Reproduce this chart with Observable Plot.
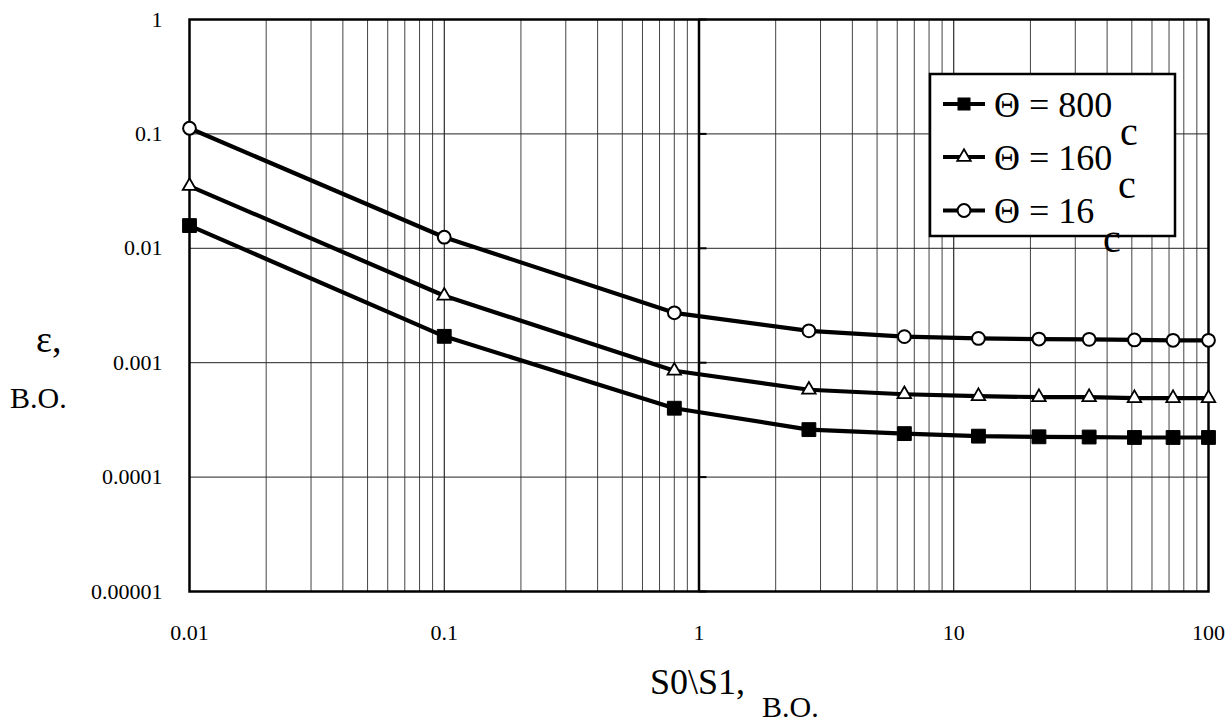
<!DOCTYPE html>
<html><head><meta charset="utf-8">
<script src="https://cdn.jsdelivr.net/npm/d3@7"></script>
<script src="https://cdn.jsdelivr.net/npm/@observablehq/plot@0.6"></script>
<style>
body{margin:0;background:#fff;}
#wrap{position:relative;width:1232px;height:724px;overflow:hidden;font-family:"Liberation Serif","DejaVu Serif",serif;color:#000;}
#wrap > svg{position:absolute;left:0;top:0;}
#wrap text{font-family:"Liberation Serif","DejaVu Serif",serif;}
</style></head><body><div id="wrap"></div>
<script>
// ---- data ----
const xValues = [0.01, 0.1, 0.8, 2.7, 6.4, 12.5, 21.6, 34, 51.2, 72.6, 100];
const theta800 = [0.0158, 0.0017, 0.0004, 0.00026, 0.00024, 0.000228, 0.000225, 0.000224, 0.000222, 0.000222, 0.000222];
const theta160 = [0.035, 0.00385, 0.00085, 0.00058, 0.00053, 0.00051, 0.0005, 0.0005, 0.00049, 0.00049, 0.00049];
const theta16  = [0.112, 0.0125, 0.00273, 0.0019, 0.00169, 0.00163, 0.00161, 0.0016, 0.00158, 0.00157, 0.00157];
const seriesNames = ["Θ = 800", "Θ = 160", "Θ = 16"];
const xTicks = [0.01, 0.1, 1, 10, 100];
const xTickLabels = ["0.01", "0.1", "1", "10", "100"];
const yTicks = [0.00001, 0.0001, 0.001, 0.01, 0.1, 1];
const yTickLabels = ["0.00001", "0.0001", "0.001", "0.01", "0.1", "1"];
const yTitle = "ε,";
const xTitle = "S0\\S1,";
const unitLabel = "В.О.";
const unitSuffix = "c";

// grid positions (minor log ticks)
const xMinor = [];
for (const d of [0.01, 0.1, 1, 10]) for (let k = 2; k < 10; k++) xMinor.push(+(d * k).toPrecision(3));
const xDecadeGrid = [0.1, 10];

const mk = vals => xValues.map((x, i) => ({x, y: vals[i]}));
const d800 = mk(theta800), d160 = mk(theta160), d16 = mk(theta16);

const FONT = "'Liberation Serif', 'DejaVu Serif', serif";
const chart = Plot.plot({
  width: 1232, height: 724,
  marginLeft: 189, marginRight: 24, marginTop: 19, marginBottom: 133,
  x: {type: "log", domain: [0.01, 100]},
  y: {type: "log", domain: [0.00001, 1]},
  style: {fontFamily: FONT, fontSize: "22px", color: "#000", background: "#fff"},
  marks: [
    Plot.ruleX(xMinor, {stroke: "#444", strokeWidth: 1}),
    Plot.ruleX(xDecadeGrid, {stroke: "#000", strokeWidth: 1}),
    Plot.ruleY(yTicks, {stroke: "#222", strokeWidth: 1}),
    Plot.ruleY(yTicks, {x1: 1, x2: 1.075, stroke: "#000", strokeWidth: 2}),
    Plot.ruleX([1], {stroke: "#000", strokeWidth: 2.5}),
    Plot.frame({stroke: "#000", strokeWidth: 2.5}),
    Plot.axisX({ticks: xTicks, tickFormat: d => xTickLabels[xTicks.indexOf(d)], tickSize: 0, tickPadding: 33, label: null, fontSize: 22}),
    Plot.axisY({ticks: yTicks, tickFormat: d => yTickLabels[yTicks.indexOf(d)], tickSize: 0, tickPadding: 27, label: null, fontSize: 22}),
    Plot.line(d800, {x: "x", y: "y", stroke: "#000", strokeWidth: 4.2}),
    Plot.line(d160, {x: "x", y: "y", stroke: "#000", strokeWidth: 4.2}),
    Plot.line(d16, {x: "x", y: "y", stroke: "#000", strokeWidth: 4.2}),
    Plot.dot(d800, {x: "x", y: "y", symbol: "square", r: 7.8, fill: "#000", stroke: "#000", strokeWidth: 1}),
    Plot.dot(d160, {x: "x", y: "y", symbol: "triangle", r: 5, fill: "#fff", stroke: "#000", strokeWidth: 1.8}),
    Plot.dot(d16, {x: "x", y: "y", symbol: "circle", r: 6.4, fill: "#fff", stroke: "#000", strokeWidth: 2})
  ]
});
const wrap = document.getElementById("wrap");
wrap.appendChild(chart);

// ---- overlay: axis titles and legend ----
const ov = d3.select(wrap).append("svg")
  .attr("width", 1232).attr("height", 724)
  .style("font-family", FONT)
  .style("pointer-events", "none");

ov.append("text").attr("x", 36).attr("y", 352).attr("font-size", 38).text(yTitle);
ov.append("text").attr("x", 10).attr("y", 408).attr("font-size", 30).text(unitLabel);
ov.append("text").attr("x", 650).attr("y", 694).attr("font-size", 36).text(xTitle);
ov.append("text").attr("x", 762).attr("y", 717).attr("font-size", 30).text(unitLabel);

const lg = ov.append("g");
lg.append("rect").attr("x", 930).attr("y", 74).attr("width", 245).attr("height", 162)
  .attr("fill", "#fff").attr("stroke", "#000").attr("stroke-width", 2.5);
const rowY = [104, 157, 210.5];
const rowBase = [116.5, 169.5, 223];
const cPos = [[1120, 145], [1118, 198], [1103, 252]];
seriesNames.forEach((name, i) => {
  const cy = rowY[i];
  lg.append("line").attr("x1", 943).attr("x2", 985).attr("y1", cy).attr("y2", cy)
    .attr("stroke", "#000").attr("stroke-width", 4.2);
  if (i === 0) {
    lg.append("rect").attr("x", 957.5).attr("y", cy - 6.5).attr("width", 13).attr("height", 13).attr("fill", "#000");
  } else if (i === 1) {
    lg.append("path").attr("d", d3.symbol(d3.symbolTriangle, Math.PI * 5 * 5)()).attr("transform", `translate(964,${cy})`)
      .attr("fill", "#fff").attr("stroke", "#000").attr("stroke-width", 1.8);
  } else {
    lg.append("circle").attr("cx", 964).attr("cy", cy).attr("r", 6.4).attr("fill", "#fff").attr("stroke", "#000").attr("stroke-width", 2);
  }
  lg.append("text").attr("x", 994).attr("y", rowBase[i]).attr("font-size", 36).text(name);
  lg.append("text").attr("x", cPos[i][0]).attr("y", cPos[i][1]).attr("font-size", 40).text(unitSuffix);
});
</script></body></html>
